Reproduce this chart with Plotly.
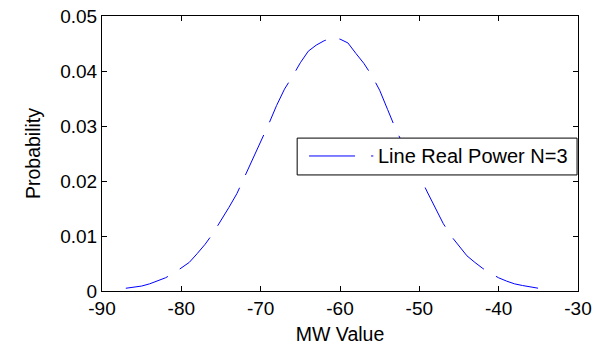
import plotly.graph_objects as go

# Probability distribution of the line real power flow (MW)
mw_value = [-87, -86, -85, -84, -83, -82, -81, -80, -79, -78,
            -77, -76, -75, -74, -73, -72, -71, -70, -69, -68,
            -67, -66, -65, -64, -63, -62, -61, -60, -59, -58,
            -57, -56, -55, -54, -53, -52, -51, -50, -49, -48,
            -47, -46, -45, -44, -43, -42, -41, -40, -39, -38,
            -37, -36, -35]
probability = [0.0005, 0.0007, 0.0009, 0.0013, 0.0018, 0.0024, 0.0032, 0.0042, 0.0052, 0.0068,
               0.0085, 0.0105, 0.0128, 0.0152, 0.0177, 0.0208, 0.0240, 0.0270, 0.0303, 0.0337,
               0.0367, 0.0390, 0.0415, 0.0436, 0.0447, 0.0455, 0.0460, 0.0458, 0.0451, 0.0432,
               0.0414, 0.0392, 0.0365, 0.0330, 0.0295, 0.0265, 0.0238, 0.0210, 0.0180, 0.0150,
               0.0123, 0.0100, 0.0081, 0.0064, 0.0052, 0.0041, 0.0032, 0.0024, 0.0018, 0.0013,
               0.0010, 0.0007, 0.0005]
series_name = "Line Real Power N=3"

x_ticks = [-90, -80, -70, -60, -50, -40, -30]
x_tick_labels = ["-90", "-80", "-70", "-60", "-50", "-40", "-30"]
y_ticks = [0, 0.01, 0.02, 0.03, 0.04, 0.05]
y_tick_labels = ["0", "0.01", "0.02", "0.03", "0.04", "0.05"]

FONT = "Liberation Sans, Arial, Helvetica, sans-serif"
LINE_COLOR = "#0000ff"
LINE_DASH = "44px,14px"

fig = go.Figure()
fig.add_trace(go.Scatter(
    x=mw_value, y=probability, mode="lines", name=series_name,
    line=dict(color=LINE_COLOR, width=1, dash=LINE_DASH),
    showlegend=False,
))

axis_common = dict(
    showgrid=False, zeroline=False, automargin=False,
    showline=True, linecolor="black", linewidth=1, mirror="ticks",
    ticks="inside", ticklen=5, tickwidth=1, tickcolor="black",
    tickfont=dict(family=FONT, size=19, color="black"),
)

# Boxed legend inside the axes (paper coordinates)
legend_box = dict(x0=0.41, x1=0.998, y0=0.422, y1=0.556)
legend_y = 0.491
fig.add_shape(type="rect", xref="paper", yref="paper", layer="above",
              line=dict(color="black", width=1), fillcolor="white",
              **legend_box)
fig.add_shape(type="line", xref="paper", yref="paper", layer="above",
              x0=0.435, x1=0.570, y0=legend_y, y1=legend_y,
              line=dict(color=LINE_COLOR, width=1, dash="46px,16px"))
fig.add_annotation(xref="paper", yref="paper", x=0.575, y=legend_y,
                   xanchor="left", yanchor="middle", showarrow=False,
                   text=series_name,
                   font=dict(family=FONT, size=20, color="black"))

fig.update_layout(
    width=604, height=345,
    margin=dict(l=102, r=26, t=16, b=54),
    paper_bgcolor="white", plot_bgcolor="white",
    font=dict(family=FONT, size=19, color="black"),
    xaxis=dict(range=[-90, -30], tickvals=x_ticks, ticktext=x_tick_labels,
               title=dict(text="MW Value", font=dict(size=19.5), standoff=9),
               **axis_common),
    yaxis=dict(range=[0, 0.05], tickvals=y_ticks, ticktext=y_tick_labels,
               title=dict(text="Probability", font=dict(size=19.5), standoff=14),
               **axis_common),
    showlegend=False,
)

fig.write_html("out.html")
